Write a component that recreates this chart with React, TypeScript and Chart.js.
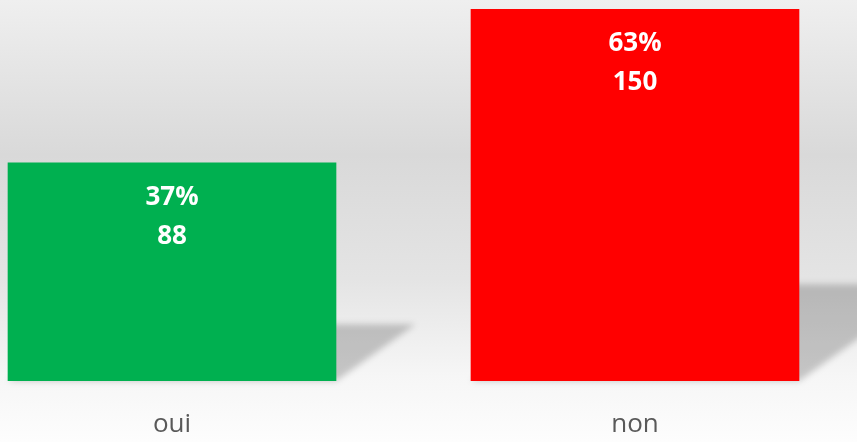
import React, { useEffect, useRef } from "react";
import { Chart, registerables } from "chart.js";

Chart.register(...registerables);

const categories = ["oui", "non"];
const counts = [88, 150];
const percents = ["37%", "63%"];
const barColors = ["#00B050", "#FF0000"];

const bgPlugin = {
  id: "bgPlugin",
  beforeDraw(chart: any) {
    const { ctx, width, height } = chart;
    const g = ctx.createLinearGradient(0, 0, 0, height);
    g.addColorStop(0, "#EFEFEF");
    g.addColorStop(0.35, "#D9D9D9");
    g.addColorStop(0.63, "#E4E4E4");
    g.addColorStop(0.85, "#F6F6F6");
    g.addColorStop(1, "#FDFDFD");
    ctx.save();
    ctx.fillStyle = g;
    ctx.fillRect(0, 0, width, height);
    ctx.restore();
  },
};

const shadowPlugin = {
  id: "shadowPlugin",
  beforeDatasetsDraw(chart: any) {
    const { ctx } = chart;
    const meta = chart.getDatasetMeta(0);
    ctx.save();
    ctx.filter = "blur(3px)";
    ctx.fillStyle = "rgba(0,0,0,0.2)";
    meta.data.forEach((bar: any) => {
      const L = bar.x - bar.width / 2;
      const R = bar.x + bar.width / 2;
      const T = bar.y;
      const B = bar.base;
      const h = 0.26 * (B - T);
      const skew = h * 1.4;
      ctx.beginPath();
      ctx.moveTo(L, B);
      ctx.lineTo(R, B);
      ctx.lineTo(R + skew, B - h);
      ctx.lineTo(L + skew, B - h);
      ctx.closePath();
      ctx.fill();
    });
    ctx.restore();
  },
};

const labelPlugin = {
  id: "labelPlugin",
  afterDatasetsDraw(chart: any) {
    const { ctx } = chart;
    const meta = chart.getDatasetMeta(0);
    ctx.save();
    ctx.fillStyle = "#FFFFFF";
    ctx.font = "bold 26px 'Open Sans'";
    ctx.textAlign = "center";
    ctx.textBaseline = "middle";
    meta.data.forEach((bar: any, i: number) => {
      ctx.fillText(percents[i], bar.x, bar.y + 35);
      ctx.fillText(String(counts[i]), bar.x, bar.y + 74);
    });
    ctx.restore();
  },
};

export default function App() {
  const ref = useRef<HTMLCanvasElement>(null);
  useEffect(() => {
    if (!ref.current) return;
    const chart = new Chart(ref.current, {
      type: "bar",
      data: {
        datasets: [
          {
            data: counts.map((v, i) => ({ x: i, y: v })),
            backgroundColor: barColors,
            borderWidth: 0,
            barThickness: 328,
          },
        ],
      },
      options: {
        animation: false,
        responsive: false,
        maintainAspectRatio: false,
        layout: { padding: { top: 9, bottom: 0, left: 0, right: 0 } },
        plugins: { legend: { display: false }, tooltip: { enabled: false } },
        scales: {
          x: {
            type: "linear",
            offset: false,
            min: -0.3715,
            max: 1.4795,
            grid: { display: false, drawTicks: false },
            border: { display: false },
            afterBuildTicks(scale: any) {
              scale.ticks = categories.map((_, i) => ({ value: i }));
            },
            afterFit(scale: any) {
              scale.height = 61;
            },
            ticks: {
              padding: 28,
              maxRotation: 0,
              autoSkip: false,
              color: "#595959",
              font: { family: "'Open Sans'", size: 26 },
              callback: (v: any) => categories[v as number] ?? "",
            },
          },
          y: {
            display: false,
            min: 0,
            max: 150,
          },
        },
      },
      plugins: [bgPlugin, shadowPlugin, labelPlugin],
    });
    return () => chart.destroy();
  }, []);
  return (
    <div style={{ position: "fixed", left: 0, top: 0, width: 857, height: 442 }}>
      <canvas ref={ref} width={857} height={442} style={{ display: "block" }} />
    </div>
  );
}
